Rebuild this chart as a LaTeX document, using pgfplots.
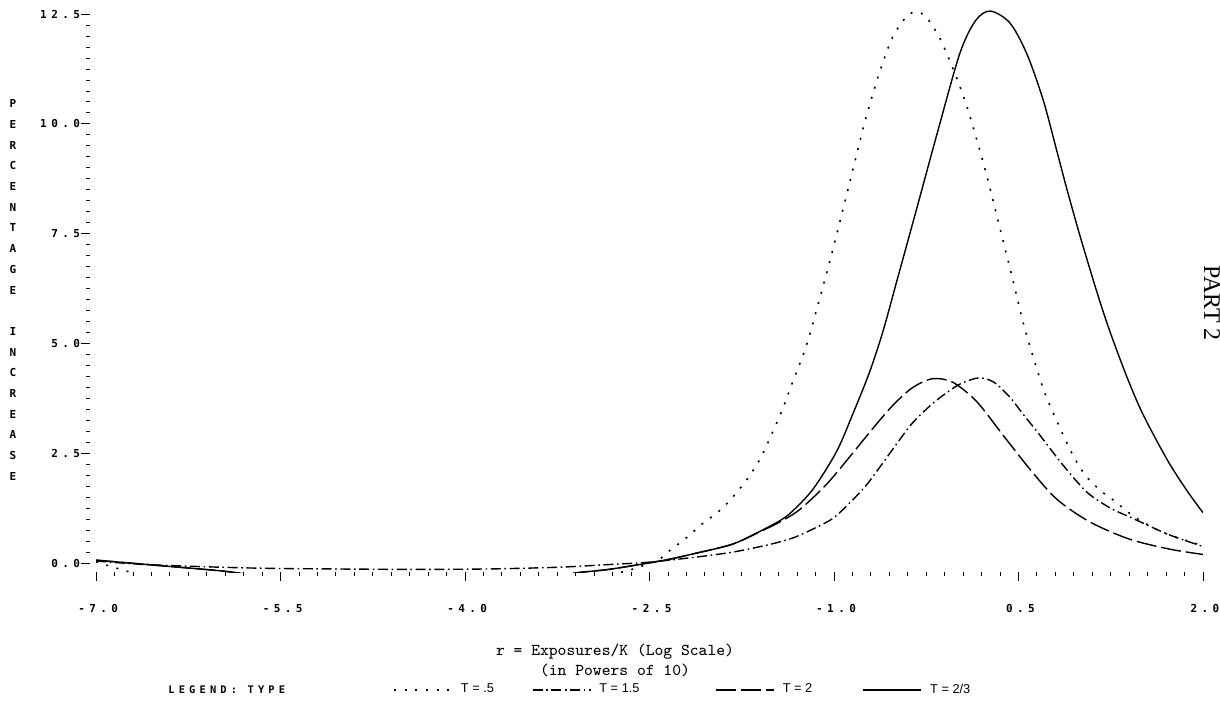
\documentclass[border=0pt]{standalone}
\usepackage{fontspec}
\usepackage{pgfplots}
\pgfplotsset{compat=1.18}
\newfontfamily\plotfont[LetterSpace=40]{DejaVu Sans Mono}
\newfontfamily\legfont{Liberation Sans}
\newfontfamily\partfont{Liberation Serif}

\begin{document}
\begin{tikzpicture}
\begin{axis}[
    scale only axis, width=556.5pt, height=282pt,
    xmin=-7.05, xmax=2.0, ymin=-0.2, ymax=12.64,
    clip mode=individual,
    axis x line*=bottom, axis y line*=left,
    axis line style={draw=none},
    xtick={-7,-5.5,-4,-2.5,-1,0.5,2},
    xticklabels={-7.0,-5.5,-4.0,-2.5,-1.0,0.5,2.0},
    ytick={0,2.5,5,7.5,10,12.5},
    yticklabels={0.0,2.5,5.0,7.5,10.0,12.5},
    minor x tick num=9, minor y tick num=9,
    tick align=outside,
    major tick length=4.5pt, minor tick length=2pt,
    every tick/.style={black, line width=0.5pt},
    tick label style={font=\plotfont\bfseries\fontsize{5.5}{6.5}\selectfont},
    xticklabel style={yshift=-8pt, xshift=1pt},
    yticklabel style={xshift=3pt},
    every axis x label/.style={at={(rel axis cs:0.4717,0)}, anchor=center, yshift=-44pt,
        align=center, font=\ttfamily\fontsize{8.3}{10}\selectfont},
    every axis y label/.style={at={(rel axis cs:0,0.5)}, anchor=center, xshift=-38.5pt,
        align=center, inner sep=0pt, font=\plotfont\bfseries\fontsize{5.5}{10.35}\selectfont},
    xlabel={r = Exposures/K (Log Scale)\\(in Powers of 10)},
    ylabel={P\\E\\R\\C\\E\\N\\T\\A\\G\\E\\[10.35pt]I\\N\\C\\R\\E\\A\\S\\E},
    legend columns=4,
    legend style={at={(0.2722,-0.2092)}, anchor=west, draw=none, fill=none,
        inner sep=0pt, column sep=0pt, nodes={inner sep=0pt},
        font=\legfont\fontsize{6.4}{7.5}\selectfont},
    legend image code/.code={\draw[#1] (0pt,0pt) -- (29pt,0pt);},
]
% T = .5
\addplot[black, line width=0.8pt, dash pattern=on 1pt off 4.3pt, smooth] coordinates {
    (-7.0,0.03) (-6.85,-0.10) (-6.7,-0.22) (-6.5,-0.35) (-3.0,-0.35) (-2.75,-0.22)
    (-2.62,-0.12) (-2.52,-0.02) (-2.42,0.09) (-2.34,0.28) (-2.20,0.58) (-2.07,0.90)
    (-1.95,1.15) (-1.85,1.42) (-1.71,1.90) (-1.60,2.38) (-1.50,2.98) (-1.42,3.50)
    (-1.34,4.10) (-1.22,5.00) (-1.09,6.30) (-1.00,7.25) (-0.91,8.25) (-0.83,9.15)
    (-0.75,10.05) (-0.65,11.0) (-0.59,11.5) (-0.52,12.0) (-0.41,12.45) (-0.33,12.55)
    (-0.25,12.43) (-0.14,11.95) (-0.035,11.27) (0.08,10.4) (0.225,9.0) (0.32,7.95)
    (0.445,6.55) (0.55,5.35) (0.70,3.98) (0.81,3.25) (0.92,2.58) (1.00,2.18)
    (1.08,1.88) (1.19,1.60) (1.27,1.44) (1.43,1.08) (1.60,0.80) (1.75,0.62) (2.00,0.40)
};
\addlegendentry{\hspace{4pt}\makebox[35.5pt][l]{T = .5}}
% T = 1.5
\addplot[black, line width=0.7pt, dash pattern=on 5pt off 1.8pt on 0.8pt off 1.8pt, smooth] coordinates {
    (-7.0,0.05) (-6.6,-0.03) (-6.0,-0.09) (-5.5,-0.12) (-4.5,-0.14) (-3.8,-0.13)
    (-3.23,-0.09) (-2.83,-0.03) (-2.52,0.02) (-2.15,0.13) (-1.83,0.25) (-1.55,0.41)
    (-1.34,0.57) (-1.17,0.78) (-1.01,1.02) (-0.87,1.38) (-0.74,1.77) (-0.63,2.18)
    (-0.49,2.72) (-0.36,3.20) (-0.20,3.63) (-0.06,3.93) (0.04,4.10) (0.18,4.22)
    (0.30,4.12) (0.43,3.78) (0.535,3.40) (0.65,3.00) (0.754,2.62) (0.86,2.24)
    (0.974,1.86) (1.08,1.56) (1.25,1.25) (1.43,1.02) (1.60,0.80) (1.75,0.62) (2.00,0.38)
};
\addlegendentry{\hspace{4pt}\makebox[58pt][l]{T = 1.5}}
% T = 2
\addplot[black, line width=0.7pt, dash pattern=on 10pt off 2.5pt, smooth] coordinates {
    (-7.0,0.07) (-6.5,-0.05) (-6.0,-0.17) (-5.8,-0.24) (-5.5,-0.35) (-3.4,-0.35)
    (-3.1,-0.22) (-2.83,-0.14) (-2.52,0.0) (-2.34,0.09) (-2.15,0.21) (-1.83,0.43)
    (-1.60,0.72) (-1.44,0.94) (-1.28,1.22) (-1.06,1.80) (-0.85,2.50) (-0.69,3.05)
    (-0.52,3.60) (-0.36,4.00) (-0.20,4.20) (-0.035,4.12) (0.16,3.68) (0.37,2.93)
    (0.59,2.15) (0.81,1.46) (1.08,0.94) (1.40,0.55) (1.73,0.32) (2.00,0.20)
};
\addlegendentry{\hspace{4pt}\makebox[40pt][l]{T = 2}}
% T = 2/3
\addplot[black, line width=0.7pt, smooth] coordinates {
    (-7.0,0.07) (-6.5,-0.05) (-6.0,-0.17) (-5.8,-0.24) (-5.5,-0.35) (-3.4,-0.35)
    (-3.1,-0.22) (-2.83,-0.14) (-2.52,0.0) (-2.34,0.09) (-2.15,0.21) (-1.83,0.43)
    (-1.60,0.73) (-1.44,0.97) (-1.34,1.18) (-1.17,1.69) (-0.98,2.54) (-0.85,3.38)
    (-0.71,4.36) (-0.60,5.30) (-0.49,6.42) (-0.33,8.05) (-0.165,9.75) (0.022,11.6)
    (0.15,12.35) (0.27,12.57) (0.43,12.3) (0.567,11.6) (0.70,10.55) (0.81,9.4)
    (0.89,8.55) (1.00,7.45) (1.14,6.15) (1.24,5.3) (1.38,4.25) (1.51,3.4)
    (1.71,2.35) (1.87,1.65) (2.00,1.15)
};
\addlegendentry{\hspace{4pt}T = 2/3}
\end{axis}
\node[anchor=west, inner sep=0pt, font=\plotfont\bfseries\fontsize{5.2}{6.5}\selectfont]
    at ([xshift=39pt, yshift=-59pt]current axis.south west) {LEGEND: TYPE};
\node[rotate=-90, inner sep=0pt, font=\partfont\fontsize{12}{14}\selectfont]
    at ([xshift=4.5pt, yshift=134.5pt]current axis.south east) {PART 2};
\pgfresetboundingbox
\path[use as bounding box] ([shift={(-45pt,-65pt)}]current axis.south west)
    rectangle ([shift={(8.5pt,4pt)}]current axis.north east);
\end{tikzpicture}
\end{document}
